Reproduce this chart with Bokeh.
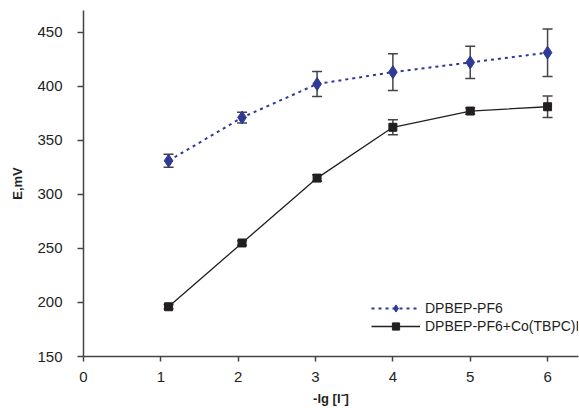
from bokeh.plotting import figure
from bokeh.models import (ColumnDataSource, Whisker, TeeHead, Legend, LegendItem,
                          Range1d, FixedTicker)
from bokeh.embed import file_html
from bokeh.resources import INLINE

# ---- data ----
lg_conc = [1.1, 2.05, 3.02, 4.0, 5.0, 6.0]
e_pf6 = [331, 371, 402, 413, 422, 431]
err_pf6 = [6, 5, 11.5, 17, 15, 22]
e_co = [196, 255, 315, 362, 377, 381]
err_co = [2, 2, 3, 7, 3, 10]
series_names = ["DPBEP-PF6", "DPBEP-PF6+Co(TBPC)I"]
x_ticks = [0, 1, 2, 3, 4, 5, 6]
y_ticks = [150, 200, 250, 300, 350, 400, 450]

BLUE = "#2E3A96"
BLACK = "#231F20"
AXIS = "#444444"
FONT = "Liberation Sans"

src_pf6 = ColumnDataSource(dict(x=lg_conc, y=e_pf6,
                                lo=[v - e for v, e in zip(e_pf6, err_pf6)],
                                hi=[v + e for v, e in zip(e_pf6, err_pf6)]))
src_co = ColumnDataSource(dict(x=lg_conc, y=e_co,
                               lo=[v - e for v, e in zip(e_co, err_co)],
                               hi=[v + e for v, e in zip(e_co, err_co)]))

p = figure(width=579, height=408, output_backend="svg", toolbar_location=None,
           x_range=Range1d(0, 6.4), y_range=Range1d(150, 470),
           min_border_left=83, min_border_right=1, min_border_top=10, min_border_bottom=51)
p.outline_line_color = None
p.grid.visible = False
p.background_fill_color = "white"
p.border_fill_color = "white"

for ax in (p.xaxis[0], p.yaxis[0]):
    ax.axis_line_color = AXIS
    ax.axis_line_width = 1.5
    ax.major_tick_line_color = AXIS
    ax.major_tick_line_width = 1.5
    ax.major_tick_in = 0
    ax.minor_tick_line_color = None
    ax.major_label_text_font = FONT
    ax.major_label_text_font_size = "15px"
    ax.major_label_text_color = BLACK
    ax.axis_label_text_font = FONT
    ax.axis_label_text_font_size = "13px"
    ax.axis_label_text_font_style = "bold"
    ax.axis_label_text_color = BLACK

p.xaxis.ticker = FixedTicker(ticks=x_ticks)
p.yaxis.ticker = FixedTicker(ticks=y_ticks)
p.xaxis.major_tick_out = 5
p.xaxis.major_label_standoff = 10
p.xaxis.axis_label = "-lg [I\u207b]"
p.xaxis.axis_label_standoff = 6
p.yaxis.major_tick_out = 6
p.yaxis.major_label_standoff = 15
p.yaxis.axis_label = "E,mV"
p.yaxis.axis_label_standoff = 9

# error bars
for src in (src_pf6, src_co):
    w = Whisker(source=src, base="x", upper="hi", lower="lo", dimension="height",
                line_color=AXIS, line_width=1.5,
                upper_head=TeeHead(size=10, line_color=AXIS, line_width=1.5),
                lower_head=TeeHead(size=10, line_color=AXIS, line_width=1.5))
    p.add_layout(w)

l1 = p.line("x", "y", source=src_pf6, line_color=BLUE, line_width=2, line_dash="3 4")
m1 = p.scatter("x", "y", source=src_pf6, marker="diamond", size=13,
               fill_color=BLUE, line_color=BLUE)
l2 = p.line("x", "y", source=src_co, line_color=BLACK, line_width=1.3)
m2 = p.scatter("x", "y", source=src_co, marker="square", size=8,
               fill_color=BLACK, line_color=BLACK)

legend = Legend(items=[LegendItem(label=series_names[0], renderers=[l1, m1]),
                       LegendItem(label=series_names[1], renderers=[l2, m2])],
                location=(288, 21), padding=0, margin=0, spacing=0,
                glyph_width=49, glyph_height=18, label_height=18, label_standoff=5,
                label_text_font=FONT, label_text_font_size="14px",
                label_text_color=BLACK, border_line_color=None,
                background_fill_alpha=0)
p.add_layout(legend)

open("out.html", "w").write(file_html(p, INLINE))
